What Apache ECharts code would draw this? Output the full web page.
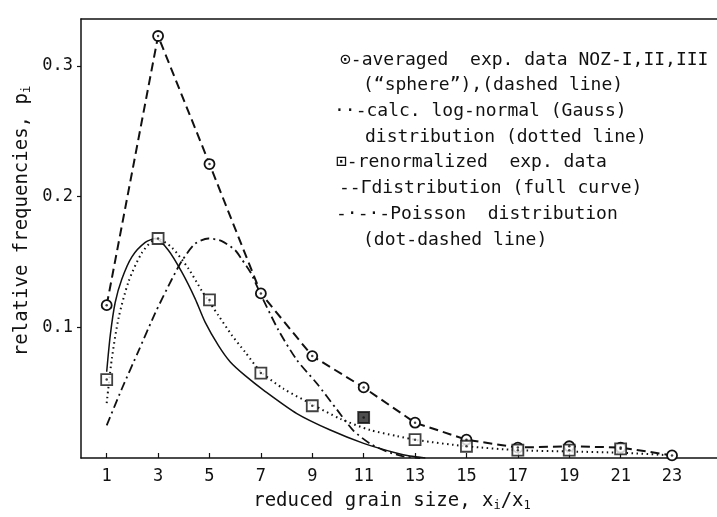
<!DOCTYPE html>
<html><head><meta charset="utf-8">
<script src="https://cdn.jsdelivr.net/npm/echarts@6/dist/echarts.min.js"></script>
<style>html,body{margin:0;padding:0;background:#fff}#c{width:717px;height:517px}</style>
</head><body><div id="c"></div>
<script>
// ---- data ----
const xTicks = [1,3,5,7,9,11,13,15,17,19,21,23];
const yTicks = [0.1,0.2,0.3];
// averaged exp. data NOZ-I,II,III (circles, dashed line)
const avgX = [1,3,5,7,9,11,13,15,17,19,21,23];
const avgY = [0.117,0.323,0.225,0.126,0.078,0.054,0.027,0.014,0.008,0.009,0.008,0.002];
// renormalized exp. data (squares)
const renX = [1,3,5,7,9,11,13,15,17,19,21];
const renY = [0.060,0.168,0.121,0.065,0.040,0.031,0.014,0.009,0.006,0.006,0.007];
const renFilled = [11];
// calc. log-normal (Gauss) distribution (dotted)
const lnX = [1,1.2,1.46,1.85,2.37,2.95,3.54,4.18,4.7,5.35,5.87,6.39,7,7.88,9,10.09,11.25,12.3,13.07,15,17,19,21,23];
const lnY = [0.042,0.076,0.107,0.135,0.157,0.168,0.161,0.145,0.128,0.109,0.094,0.081,0.066,0.053,0.041,0.030,0.0214,0.0168,0.0137,0.009,0.006,0.005,0.004,0.002];
// Gamma distribution (full curve)
const gX = [1,1.14,1.33,1.59,1.98,2.5,2.9,3.4,3.93,4.44,4.83,5.35,5.81,6.39,7.1,8.4,9.7,11,12.3,12.8,13.4];
const gY = [0.066,0.094,0.119,0.137,0.154,0.165,0.168,0.159,0.142,0.122,0.104,0.086,0.0735,0.063,0.052,0.034,0.0214,0.0112,0.0036,0.0015,0];
// Poisson distribution (dot-dashed)
const pX = [1,1.59,2.24,2.89,3.54,3.93,4.44,4.96,5.48,6.0,6.26,6.6,7,7.68,8.4,9.18,9.96,10.6,11.25,11.9,12.5,13.2];
const pY = [0.025,0.053,0.082,0.111,0.137,0.151,0.164,0.168,0.166,0.159,0.152,0.142,0.125,0.098,0.075,0.057,0.037,0.021,0.011,0.005,0.0015,0];

const legendLines = [
  '⊙-averaged  exp. data NOZ-I,II,III',
  '(“sphere”),(dashed line)',
  '··-calc. log-normal (Gauss)',
  'distribution (dotted line)',
  '⊡-renormalized  exp. data',
  '--Γdistribution (full curve)',
  '-·-·-Poisson  distribution',
  '(dot-dashed line)'
];
const legendLeft = [340,363,334,365,336,339,336,363];

const zip = (a,b) => a.map((v,i)=>[v,b[i]]);
const FONT = 'DejaVu Sans Mono';
const chart = echarts.init(document.getElementById('c'), null, {renderer:'canvas'});

const graphics = legendLines.map((t,i)=>({
  type:'text', x: legendLeft[i], y: 60 + i*25.7,
  style:{text:t, font:'18px "' + FONT + '"', fill:'#111', align:'left', verticalAlign:'middle'}
}));
graphics.push({
  type:'text', x:22, y:221, rotation: Math.PI/2,
  style:{text:'relative frequencies, p{s|i}', font:'19px "'+FONT+'"', fill:'#111', align:'center', verticalAlign:'middle',
    rich:{s:{fontSize:12, fontFamily:FONT, padding:[10,0,0,0]}}}
});
graphics.push({
  type:'text', x:392, y:501,
  style:{text:'reduced grain size, x{s|i}/x{s|1}', font:'19px "'+FONT+'"', fill:'#111', align:'center', verticalAlign:'middle',
    rich:{s:{fontSize:12, fontFamily:FONT, padding:[10,0,0,0]}}}
});

const lineCol = '#111';
chart.setOption({
  backgroundColor:'#fff',
  animation:false,
  grid:{left:81, right:0, top:19, bottom:59},
  xAxis:[{
    type:'value', min:0, max:24.75,
    axisLine:{lineStyle:{color:lineCol, width:1.5}},
    axisTick:{inside:true, length:5, customValues:xTicks, lineStyle:{color:lineCol, width:1.2}},
    axisLabel:{customValues:xTicks, color:'#111', fontFamily:FONT, fontSize:17, margin:10},
    splitLine:{show:false}
  },{
    type:'value', position:'top', min:0, max:24.75,
    axisLine:{show:true, lineStyle:{color:lineCol, width:1.5}},
    axisTick:{show:false}, axisLabel:{show:false}, splitLine:{show:false}
  }],
  yAxis:{
    type:'value', min:0, max:0.336,
    axisLine:{show:true, lineStyle:{color:lineCol, width:1.5}},
    axisTick:{show:true, length:4, customValues:yTicks, lineStyle:{color:lineCol, width:1.2}},
    axisLabel:{customValues:yTicks, color:'#111', fontFamily:FONT, fontSize:17, margin:8},
    splitLine:{show:false}
  },
  graphic: graphics,
  series:[
    {type:'line', data:zip(gX,gY), smooth:0.25, showSymbol:false, lineStyle:{color:lineCol, width:1.5}, z:2},
    {type:'line', data:zip(pX,pY), smooth:0.25, showSymbol:false, lineStyle:{color:lineCol, width:1.8, type:[9,4,2,4]}, z:2},
    {type:'line', data:zip(lnX,lnY), smooth:0.25, showSymbol:false, lineStyle:{color:lineCol, width:2, type:[1.5,3.5]}, z:2},
    {type:'line', data:zip(avgX,avgY), smooth:false, symbol:'circle', symbolSize:10,
      itemStyle:{color:'#fff', borderColor:lineCol, borderWidth:1.8},
      lineStyle:{color:lineCol, width:2, type:[9,5]}, z:3},
    {type:'scatter', data:zip(renX,renY).map(d=>({value:d, itemStyle: renFilled.includes(d[0]) ? {color:'#222'} : undefined})),
      symbol:'rect', symbolSize:11, itemStyle:{color:'#fff', borderColor:lineCol, borderWidth:1.8}, z:4},
    {type:'scatter', data:zip(avgX,avgY), symbol:'circle', symbolSize:2.5, itemStyle:{color:lineCol}, z:5},
    {type:'scatter', data:zip(renX,renY), symbol:'circle', symbolSize:2.5, itemStyle:{color:lineCol}, z:5}
  ]
});
</script></body></html>
